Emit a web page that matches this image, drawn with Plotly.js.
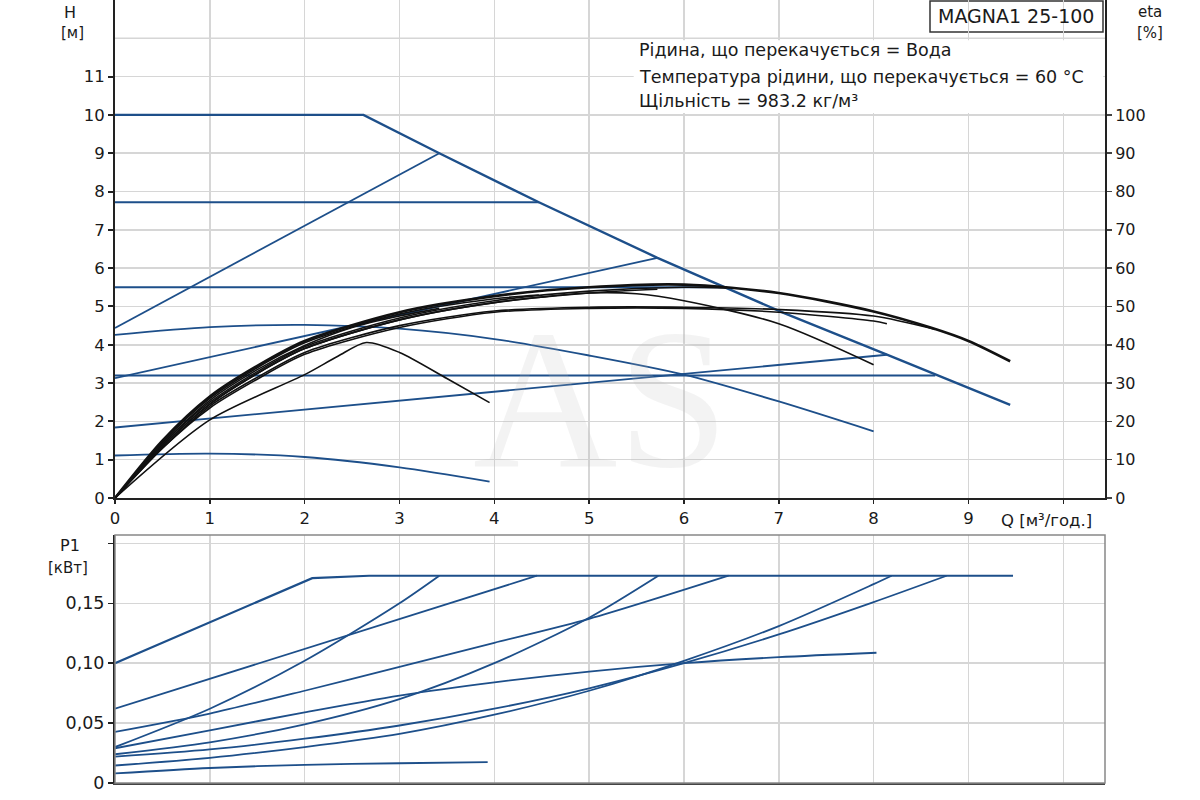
<!DOCTYPE html>
<html><head><meta charset="utf-8">
<script src="https://cdn.plot.ly/plotly-3.0.1.min.js"></script>
<style>body{margin:0;background:#fff}#chart{width:1200px;height:800px}</style>
</head><body><div id="chart"></div>
<script>
// ---- QH curves (H, m) ----
const qMax = [0, 2.62, 3.42, 4.47, 5.72, 6.45, 7.05, 8.14, 9.44];
const hMax = [10, 10, 9.0, 7.72, 6.27, 5.48, 4.83, 3.74, 2.43];
const qCP3 = [0, 4.47];            const hCP3 = [7.72, 7.72];
const qCP2 = [0, 6.45];            const hCP2 = [5.5, 5.5];
const qCP1 = [0, 8.65];            const hCP1 = [3.2, 3.2];
const qPP3 = [0, 3.42];            const hPP3 = [4.44, 9.0];
const qPP2 = [0, 5.72];            const hPP2 = [3.13, 6.27];
const qPP1 = [0, 8.14];            const hPP1 = [1.84, 3.74];
const qIII = [0, 1, 2, 3, 4, 5, 6, 7, 8];
const hIII = [4.26, 4.46, 4.52, 4.42, 4.15, 3.72, 3.22, 2.52, 1.74];
const qI = [0, 1, 2, 3, 3.95];
const hI = [1.11, 1.16, 1.07, 0.8, 0.43];

// ---- efficiency curves (eta, %) ----
const qEtaMax = [0, 0.5, 1, 1.5, 2, 3, 4, 5, 6, 7, 8, 8.6, 9, 9.44];
const etaMax  = [0, 15, 26.5, 34.5, 41, 48.5, 52.7, 55, 55.7, 53.5, 48.7, 44.5, 41, 35.7];
const qEtaCP3 = [0, 0.5, 1, 1.5, 2, 3, 4, 4.47];
const etaCP3  = [0, 14.5, 26, 34, 40.5, 48, 52, 53];
const qEtaPP3 = [0, 0.5, 1, 1.5, 2, 2.5, 3, 3.42];
const etaPP3  = [0, 14, 25.5, 33.5, 39.8, 44.5, 47.5, 49.5];
const qEtaCP2 = [0, 0.5, 1, 1.5, 2, 3, 4, 5, 6, 6.45];
const etaCP2  = [0, 14, 25, 33, 39.5, 47, 51.5, 54, 55, 54.8];
const qEtaPP2 = [0, 0.5, 1, 1.5, 2, 3, 4, 5, 5.72];
const etaPP2  = [0, 13.5, 24.5, 32.5, 39, 46.5, 51, 53.5, 54.5];
const qEtaCP1 = [0, 0.5, 1, 1.5, 2, 3, 4, 5, 6, 7, 8, 8.65];
const etaCP1  = [0, 13, 24, 31.5, 38, 45, 48.8, 49.8, 49.8, 49.2, 47.5, 44];
const qEtaPP1 = [0, 0.5, 1, 1.5, 2, 3, 4, 5, 6, 7, 8, 8.14];
const etaPP1  = [0, 13, 23.5, 31, 37.5, 44.5, 48.5, 49.5, 49.5, 48.5, 46.2, 45.5];
const qEtaIII = [0, 0.5, 1, 1.5, 2, 3, 4, 5, 5.5, 6, 7, 8];
const etaIII  = [0, 13.5, 24.5, 32.5, 39, 46.5, 51, 53.5, 53.3, 51.5, 45.5, 34.8];
const qEtaI   = [0, 1, 2, 2.35, 2.65, 3, 3.5, 3.95];
const etaI    = [0, 20.4, 32.2, 37, 40.6, 38, 31.2, 24.9];

// ---- power curves (P1, kW) ----
const qPMax = [0, 2.08, 2.68, 9.47];             const pMax = [0.100, 0.171, 0.173, 0.173];
const qPCP3 = [0, 4.45];                         const pCP3 = [0.062, 0.173];
const qPPP3 = [0, 1, 2, 3, 3.42];                const pPP3 = [0.030, 0.062, 0.102, 0.150, 0.173];
const qPCP2 = [0, 1, 2, 3, 4, 5, 6.47];          const pCP2 = [0.0427, 0.058, 0.077, 0.097, 0.117, 0.137, 0.173];
const qPPP2 = [0, 1, 2, 3, 4, 5, 5.73];          const pPP2 = [0.024, 0.034, 0.049, 0.07, 0.1, 0.138, 0.173];
const qPCP1 = [0, 1, 2, 3, 4, 5, 6, 7, 8, 8.77]; const pCP1 = [0.022, 0.028, 0.037, 0.048, 0.062, 0.079, 0.1, 0.124, 0.151, 0.173];
const qPPP1 = [0, 1, 2, 3, 4, 5, 6, 7, 8, 8.19]; const pPP1 = [0.0146, 0.021, 0.03, 0.041, 0.057, 0.077, 0.102, 0.131, 0.166, 0.173];
const qPIII = [0, 1, 2, 3, 4, 5, 6, 7, 8.03];    const pIII = [0.029, 0.044, 0.059, 0.073, 0.084, 0.093, 0.1, 0.105, 0.1087];
const qPI   = [0, 1, 2, 3, 3.93];                const pI   = [0.008, 0.0125, 0.0152, 0.0165, 0.0174];

// ---- tick labels ----
const xTickVals = [0,1,2,3,4,5,6,7,8,9,10];
const xTickText = ['0','1','2','3','4','5','6','7','8','9',''];
const hTickVals = [0,1,2,3,4,5,6,7,8,9,10,11];
const hGridVals = [12];
const etaTickVals = [0,10,20,30,40,50,60,70,80,90,100];
const pTickVals = [0, 0.05, 0.10, 0.15, 0.20];
const pTickText = ['0', '0,05', '0,10', '0,15', ''];

const BLUE = '#1d4f8a';
const BLACK = '#111111';
const traces = [];
function add(x, y, yax, xax, color, width, spline) {
  traces.push({x: x, y: y, xaxis: xax, yaxis: yax, type: 'scatter', mode: 'lines',
    line: {color: color, width: width, shape: spline ? 'spline' : 'linear', smoothing: 0.8},
    hoverinfo: 'skip', showlegend: false});
}
// QH
add(qMax, hMax, 'y', 'x', BLUE, 2.4, false);
add(qCP3, hCP3, 'y', 'x', BLUE, 2, false);
add(qCP2, hCP2, 'y', 'x', BLUE, 2, false);
add(qCP1, hCP1, 'y', 'x', BLUE, 2, false);
add(qPP3, hPP3, 'y', 'x', BLUE, 1.8, false);
add(qPP2, hPP2, 'y', 'x', BLUE, 1.8, false);
add(qPP1, hPP1, 'y', 'x', BLUE, 1.8, false);
add(qIII, hIII, 'y', 'x', BLUE, 1.8, true);
add(qI, hI, 'y', 'x', BLUE, 1.8, true);
// eta
add(qEtaCP3, etaCP3, 'y2', 'x', BLACK, 1.6, true);
add(qEtaPP3, etaPP3, 'y2', 'x', BLACK, 1.6, true);
add(qEtaCP2, etaCP2, 'y2', 'x', BLACK, 1.6, true);
add(qEtaPP2, etaPP2, 'y2', 'x', BLACK, 1.6, true);
add(qEtaCP1, etaCP1, 'y2', 'x', BLACK, 1.6, true);
add(qEtaPP1, etaPP1, 'y2', 'x', BLACK, 1.6, true);
add(qEtaIII, etaIII, 'y2', 'x', BLACK, 1.6, true);
add(qEtaI, etaI, 'y2', 'x', BLACK, 1.6, true);
add(qEtaMax, etaMax, 'y2', 'x', BLACK, 2.6, true);
// P1
add(qPMax, pMax, 'y3', 'x2', BLUE, 2.2, false);
add(qPCP3, pCP3, 'y3', 'x2', BLUE, 1.8, false);
add(qPPP3, pPP3, 'y3', 'x2', BLUE, 1.8, true);
add(qPCP2, pCP2, 'y3', 'x2', BLUE, 1.8, true);
add(qPPP2, pPP2, 'y3', 'x2', BLUE, 1.8, true);
add(qPCP1, pCP1, 'y3', 'x2', BLUE, 1.8, true);
add(qPPP1, pPP1, 'y3', 'x2', BLUE, 1.8, true);
add(qPIII, pIII, 'y3', 'x2', BLUE, 1.8, true);
add(qPI, pI, 'y3', 'x2', BLUE, 1.8, true);

const FONT = 'DejaVu Sans, Verdana, sans-serif';
const GRID = '#d6d6d6';
const topDom = [(783-498)/783, 1];
const botDom = [0, (783-535)/783];
const XR = [0, 10.44];
const TXT = '#1a1a1a';

function note(text, px, py, size, anchor) {
  return {text: text, xref: 'paper', yref: 'paper', x: (px-115)/990, y: (783-py)/783,
    xanchor: anchor || 'center', yanchor: 'middle', showarrow: false, font: {size: size}};
}

const layout = {
  width: 1200, height: 800,
  margin: {l: 115, r: 95, t: 0, b: 17},
  paper_bgcolor: '#fff', plot_bgcolor: '#fff',
  font: {family: FONT, size: 16.5, color: TXT},
  showlegend: false,
  xaxis: {domain: [0,1], anchor: 'y', range: XR, tickvals: xTickVals, ticktext: xTickText,
    showgrid: true, gridcolor: GRID, gridwidth: 1.5, zeroline: false,
    showline: true, linecolor: '#222', linewidth: 2, ticks: 'outside', ticklen: 4, tickcolor: '#222', tickwidth: 1.5},
  yaxis: {domain: topDom, anchor: 'x', range: [0, 13], tickvals: hTickVals,
    showgrid: true, gridcolor: GRID, gridwidth: 1.5, zeroline: false,
    showline: true, linecolor: '#222', linewidth: 2, ticks: 'outside', ticklen: 5, tickcolor: '#222', tickwidth: 2},
  yaxis2: {overlaying: 'y', side: 'right', anchor: 'x', range: [0, 130], tickvals: etaTickVals,
    tickfont: {size: 16},
    showgrid: false, zeroline: false,
    showline: true, linecolor: '#222', linewidth: 2, ticks: 'outside', ticklen: 5, tickcolor: '#444', tickwidth: 1.5},
  xaxis2: {domain: [0,1], anchor: 'y3', range: XR, tickvals: xTickVals, showticklabels: false,
    showgrid: true, gridcolor: GRID, gridwidth: 1.5, zeroline: false,
    showline: true, linecolor: '#444', linewidth: 2, ticks: ''},
  yaxis3: {domain: botDom, anchor: 'x2', range: [0, 0.207], tickvals: pTickVals, ticktext: pTickText,
    tickfont: {size: 17.5},
    showgrid: true, gridcolor: GRID, gridwidth: 1.5, zeroline: false,
    showline: true, linecolor: '#222', linewidth: 2, ticks: 'outside', ticklen: 5, tickcolor: '#222', tickwidth: 1.5},
  shapes: [
    {type: 'line', xref: 'x', yref: 'y', x0: 0, x1: 10.44, y0: hGridVals[0], y1: hGridVals[0],
     line: {color: GRID, width: 1.5}, layer: 'between'},
    {type: 'rect', xref: 'x2 domain', yref: 'y3 domain', x0: 0, x1: 1, y0: 0, y1: 1,
     line: {color: '#888', width: 1.5}, fillcolor: 'rgba(0,0,0,0)', layer: 'above'},
    {type: 'rect', xref: 'x', yref: 'y', x0: 5.47, x1: 10.42, y0: 10.05, y1: 11.95,
     line: {width: 0}, fillcolor: '#fff', layer: 'between'},
    {type: 'rect', xref: 'paper', yref: 'paper', x0: (930-115)/990, x1: (1103-115)/990,
     y0: (783-32)/783, y1: (783-1)/783, line: {color: '#333', width: 1.5}, fillcolor: '#fff', layer: 'below'}
  ],
  annotations: [
    {text: 'AS', xref: 'x', yref: 'y', x: 5.12, y: 2.6, xanchor: 'center', yanchor: 'middle', showarrow: false,
     font: {family: 'Liberation Serif, DejaVu Serif, serif', size: 200, color: 'rgba(190,190,190,0.18)'}},
    note('H', 70, 12, 16),
    note('[м]', 72, 33, 15),
    note('eta', 1150, 12, 15),
    note('[%]', 1150, 33, 15),
    note('P1', 70, 545, 16),
    note('[кВт]', 68, 568, 15),
    note('Q [м³/год.]', 999, 520, 16.5, 'left'),
    note('MAGNA1 25-100', 1016, 16, 19),
    note('Рідина, що перекачується = Вода', 637, 50, 17.5, 'left'),
    note('Температура рідини, що перекачується = 60 °C', 637, 77, 17.5, 'left'),
    note('Щільність = 983.2 кг/м³', 637, 101, 17.5, 'left')
  ]
};
Plotly.newPlot('chart', traces, layout, {staticPlot: true, displayModeBar: false});
</script></body></html>
